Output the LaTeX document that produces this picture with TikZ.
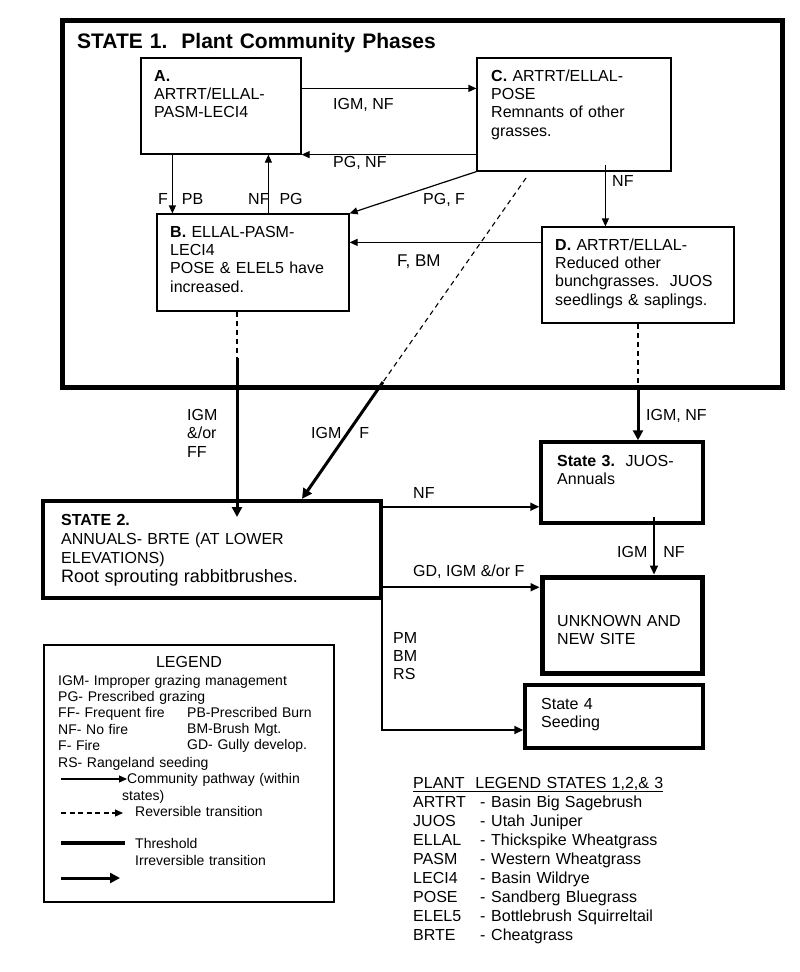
\documentclass[tikz,border=0pt]{standalone}
\usepackage{fontspec}
\setmainfont{Liberation Sans}
\usetikzlibrary{arrows.meta,calc}
\newcommand{\plrow}[2]{\makebox[67pt][l]{#1}\makebox[11pt][l]{-}#2}
\begin{document}
\begin{tikzpicture}[x=1pt,y=-1pt,
  box/.style={draw, line width=1.2pt, inner sep=0pt},
  sbox/.style={draw, inner sep=0pt},
  txt/.style={inner sep=0pt, anchor=base west, text width=200pt, align=left, font=\fontsize{16}{18.4}\selectfont},
  lgd/.style={txt, font=\fontsize{14}{16.4}\selectfont},
  lbl/.style={inner sep=0pt, anchor=base west, font=\fontsize{16}{18.5}\selectfont},
  arr/.style={line width=1.2pt, -{Triangle[length=8pt,width=7pt]}},
  medarr/.style={line width=1.9pt, -{Triangle[length=9pt,width=8pt]}},
  thickarr/.style={line width=3pt, -{Triangle[length=10pt,width=10pt]}},
  dsh/.style={line width=1.1pt, dash pattern=on 5pt off 4pt}
]
\fill[white] (0,0) rectangle (800,972);
\useasboundingbox (0,0) rectangle (800,972);

% ---------- boxes ----------
\node[sbox, line width=5pt, minimum width=720pt, minimum height=367pt] (S1) at (422,203.5) {};
\node[box, minimum width=160pt, minimum height=96pt] (A) at (221,106) {};
\node[box, minimum width=194pt, minimum height=113pt] (C) at (574,114.5) {};
\node[box, minimum width=192pt, minimum height=96pt] (D) at (638,275) {};
\node[box, minimum width=192pt, minimum height=97pt] (B) at (253,262.5) {};
\node[sbox, line width=4.5pt, minimum width=338pt, minimum height=97pt] (S2) at (212,549.5) {};
\node[sbox, line width=3.5pt, minimum width=162pt, minimum height=81pt] (S3) at (622,482.5) {};
\node[sbox, line width=5pt, minimum width=160pt, minimum height=96pt] (U) at (622,625) {};
\node[sbox, line width=3.5pt, minimum width=178pt, minimum height=63pt] (S4) at (614,716.5) {};
\node[sbox, line width=1.5pt, minimum width=290pt, minimum height=257pt] (L) at (189,773.5) {};

% ---------- box texts ----------
\node[txt, text width=500pt, font=\fontsize{21}{24}\selectfont\bfseries] (tS1) at (77,48) {STATE 1.\ \ Plant Community Phases};
\node[txt] (tA) at (154,81) {\textbf{A.}\\ARTRT/ELLAL-\\PASM-LECI4};
\node[txt] (tC) at (491,81) {\textbf{C.} ARTRT/ELLAL-\\POSE\\Remnants of other\\grasses.};
\node[txt] (tD) at (555,250) {\textbf{D.} ARTRT/ELLAL-\\Reduced other\\bunchgrasses.\ \ JUOS\\seedlings \& saplings.};
\node[txt] (tB) at (170,237) {\textbf{B.} ELLAL-PASM-\\LECI4\\POSE \& ELEL5 have\\increased.};
\node[txt, text width=320pt, font=\fontsize{16}{19}\selectfont] (tS2) at (61,525) {\textbf{STATE 2.}\\ANNUALS- BRTE (AT LOWER\\ELEVATIONS)\\{\fontsize{18}{19}\selectfont Root sprouting rabbitbrushes.}};
\node[txt, font=\fontsize{16}{18}\selectfont] (tS3) at (557,466) {\textbf{State 3.}\ \ JUOS-\\Annuals};
\node[txt, font=\fontsize{16}{18}\selectfont] (tU) at (557,626) {UNKNOWN AND\\NEW SITE};
\node[txt, font=\fontsize{16}{18}\selectfont] (tS4) at (541,709) {State 4\\Seeding};

% ---------- connectors within State 1 ----------
\draw[arr] ([yshift=-31pt]A.north east) -- ([yshift=-31pt]A.north east -| C.west);
\draw[arr] (C.west |- A.south east) -- (A.south east);
\coordinate (ab) at ([xshift=32pt]A.south west);
\draw[arr] (ab) -- (ab |- B.north);
\coordinate (ba) at ([xshift=112pt]B.north west);
\draw[arr] (ba) -- (ba |- A.south);
\draw[arr] (C.south west) -- (B.north east);
\coordinate (db) at ([yshift=-16pt]D.north west);
\draw[arr] (db) -- (db -| B.east);
\coordinate (cd) at ([xshift=129pt,yshift=7pt]C.south west);
\draw[arr] (cd) -- (cd |- D.north);

% ---------- transitions ----------
\coordinate (bB) at (237,358);
\coordinate (bE) at (237,517);
\draw[dsh] ([xshift=-16pt]B.south) -- (bB);
\draw[thickarr] (bB) -- (bE);
\coordinate (cS) at (526,178);
\coordinate (cM) at (383,382);
\draw[dsh] (cS) -- (cM);
\draw[thickarr] (cM) -- ([xshift=90pt]S2.north);
\coordinate (dM) at (638,386);
\draw[dsh] (D.south) -- (dM);
\draw[thickarr] (dM) -- (dM |- S3.north);

\coordinate (s2a) at ([yshift=-8pt]S2.north east);
\draw[medarr] (s2a) -- (s2a -| S3.west);
\coordinate (s2b) at ([yshift=13pt]S2.south east);
\draw[medarr] (s2b) -- (s2b -| U.west);
\draw[medarr] ([xshift=-1.5pt]S2.south east) |- ([yshift=-13.5pt]S4.west);
\coordinate (s3u) at ([xshift=32pt,yshift=8pt]S3.south);
\draw[medarr] (s3u) -- (s3u |- U.north);

% ---------- connector labels ----------
\node[lbl] (l1) at (333,109) {IGM, NF};
\node[lbl] (l2) at (333,167) {PG, NF};
\node[lbl] (l3) at (158,204) {F\hspace{14pt}PB};
\node[lbl] (l4) at (248,204) {NF\hspace{10pt}PG};
\node[lbl] (l5) at (423,204) {PG, F};
\node[lbl, font=\fontsize{17}{20}\selectfont] (l6) at (397,266) {F, BM};
\node[lbl] (l7) at (612,186) {NF};
\node[txt, font=\fontsize{16}{18.5}\selectfont] (l8) at (187,420) {IGM\\\&/or\\FF};
\node[lbl] (l9) at (311,438) {IGM\hspace{18pt}F};
\node[lbl] (l10) at (646,420) {IGM, NF};
\node[lbl] (l11) at (413,498) {NF};
\node[lbl] (l12) at (413,576) {GD, IGM \&/or F};
\node[txt, font=\fontsize{16}{18}\selectfont] (l13) at (393,643) {PM\\BM\\RS};
\node[lbl] (l14) at (617,557) {IGM\hspace{16pt}NF};

% ---------- legend ----------
\node[lbl, anchor=base] (lg) at (189,667) {LEGEND};
\node[lgd, text width=270pt] (lg1) at (58,685) {IGM- Improper grazing management\\PG- Prescribed grazing\\FF- Frequent fire\\NF- No fire\\F- Fire\\RS- Rangeland seeding};
\node[lgd, text width=140pt] (lg2) at (187,717) {PB-Prescribed Burn\\BM-Brush Mgt.\\GD- Gully develop.};
\coordinate (k1a) at (61,779);
\coordinate (k1b) at (127,779);
\draw[arr] (k1a) -- (k1b);
\node[lgd, font=\fontsize{14}{17}\selectfont] (lg3) at (127,783) {Community pathway (within\\\hspace*{-5pt}states)};
\coordinate (k2a) at (61,813);
\coordinate (k2b) at (123,813);
\draw[arr, dash pattern=on 5pt off 3.5pt] (k2a) -- (k2b);
\node[lgd] (lg4) at (135,816) {Reversible transition};
\coordinate (k3a) at (61,843);
\coordinate (k3b) at (125,843);
\draw[line width=3.5pt] (k3a) -- (k3b);
\node[lgd, font=\fontsize{14}{17}\selectfont] (lg5) at (135,848) {Threshold\\Irreversible transition};
\coordinate (k4a) at (61,878);
\coordinate (k4b) at (120,878);
\draw[thickarr] (k4a) -- (k4b);

% ---------- plant legend ----------
\node[txt, text width=300pt, font=\fontsize{16}{19}\selectfont] (pl) at (413,788) {\underline{PLANT\ \ LEGEND STATES 1,2,\& 3}\\
\plrow{ARTRT}{Basin Big Sagebrush}\\
\plrow{JUOS}{Utah Juniper}\\
\plrow{ELLAL}{Thickspike Wheatgrass}\\
\plrow{PASM}{Western Wheatgrass}\\
\plrow{LECI4}{Basin Wildrye}\\
\plrow{POSE}{Sandberg Bluegrass}\\
\plrow{ELEL5}{Bottlebrush Squirreltail}\\
\plrow{BRTE}{Cheatgrass}};
\end{tikzpicture}
\end{document}
